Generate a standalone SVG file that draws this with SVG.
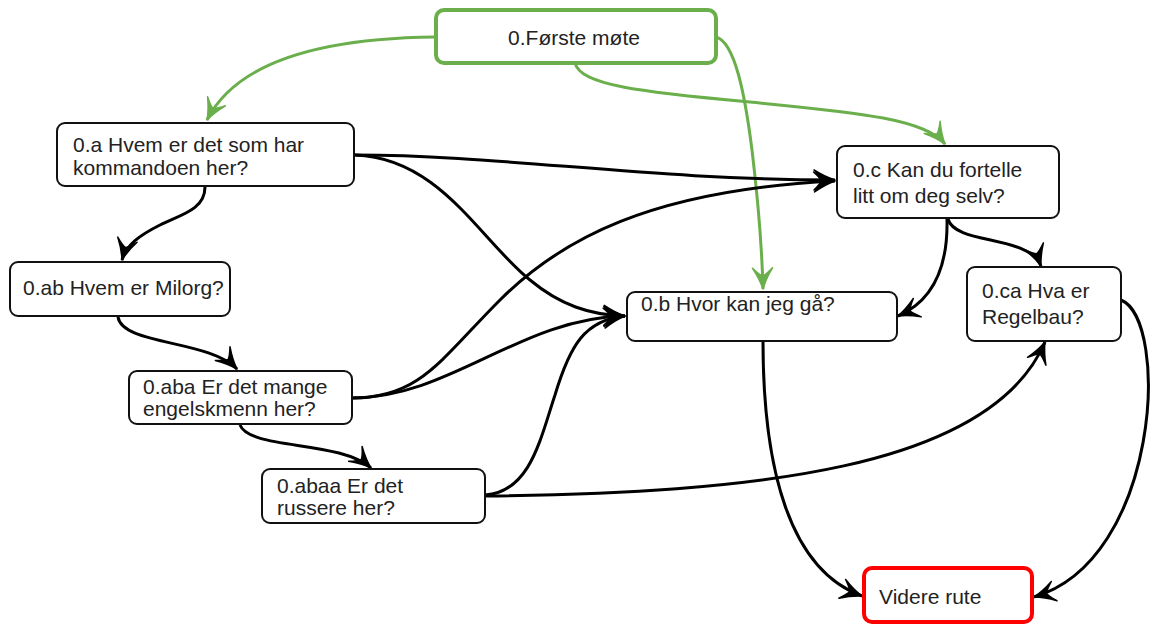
<svg xmlns="http://www.w3.org/2000/svg" width="1154" height="625" viewBox="0 0 1154 625">
<style>
.box{fill:#fff;stroke:#111;stroke-width:2}
.start{fill:#fff;stroke:#6aaf4c;stroke-width:4}
.end{fill:#fff;stroke:#f00;stroke-width:4}
text{font-family:"Liberation Sans",Arial,sans-serif;font-size:21px;fill:#222}
.c{fill:none;stroke:#000;stroke-width:3;marker-end:url(#ab)}
.g{fill:none;stroke:#6aaf4c;stroke-width:3;marker-end:url(#ag)}
</style>
<defs>
<marker id="ab" markerUnits="userSpaceOnUse" viewBox="-24 -12 27 24" markerWidth="27" markerHeight="24" refX="0" refY="0" orient="auto">
<path d="M0,0 Q-10,-3 -21,-10 Q-14,-3 -13,0 Q-14,3 -21,10 Q-10,3 0,0 Z" fill="#000" stroke="#000" stroke-width="1.5" stroke-linejoin="round"/>
</marker>
<marker id="ag" markerUnits="userSpaceOnUse" viewBox="-24 -12 27 24" markerWidth="27" markerHeight="24" refX="0" refY="0" orient="auto">
<path d="M0,0 Q-10,-3 -21,-10 Q-14,-3 -13,0 Q-14,3 -21,10 Q-10,3 0,0 Z" fill="#6aaf4c" stroke="#6aaf4c" stroke-width="1.5" stroke-linejoin="round"/>
</marker>
</defs>
<g id="connectors">
<path class="g" d="M435,37 C340,38 240,55 207,120"/>
<path class="g" d="M716,37 C735,42 745,95 752,150 C758,200 762,250 763,289"/>
<path class="g" d="M575,63 C580,85 640,92 750,102 C850,112 925,118 945,144"/>
<path class="c" d="M205,187 C205,210 180,215 160,225 C140,235 126,245 122,260"/>
<path class="c" d="M355,155 C500,155 650,180 835,180"/>
<path class="c" d="M355,155 C440,158 480,240 530,280 C560,305 590,315 625,316"/>
<path class="c" d="M118,317 C122,345 210,340 237,369"/>
<path class="c" d="M352,398 C420,398 440,360 500,300 C560,240 650,190 835,181"/>
<path class="c" d="M352,398 C450,398 520,318 625,316"/>
<path class="c" d="M240,425 C250,450 340,440 371,468"/>
<path class="c" d="M485,495 C530,492 540,440 555,395 C570,345 585,320 625,316"/>
<path class="c" d="M485,496 C750,493 990,470 1045,342"/>
<path class="c" d="M947,219 C948,265 935,300 898,316"/>
<path class="c" d="M948,219 C955,245 1030,235 1041,266"/>
<path class="c" d="M763,341 C763,470 790,570 862,596"/>
<path class="c" d="M1121,300 C1170,320 1160,560 1034,597"/>
</g>
<g id="n0"><rect class="start" x="436" y="10" width="280" height="53" rx="8"/><text x="574" y="45" text-anchor="middle">0.Første møte</text></g>
<g id="na"><rect class="box" x="57" y="123" width="297" height="63" rx="8"/><text x="73" y="152" font-size="21.5">0.a Hvem er det som har</text><text x="73" y="175" font-size="21.5">kommandoen her?</text></g>
<g id="nab"><rect class="box" x="10" y="262" width="220" height="54" rx="8"/><text x="23" y="295">0.ab Hvem er Milorg?</text></g>
<g id="naba"><rect class="box" x="129" y="371" width="223" height="53" rx="8"/><text x="143" y="394">0.aba Er det mange</text><text x="143" y="416">engelskmenn her?</text></g>
<g id="nabaa"><rect class="box" x="262" y="469" width="223" height="54" rx="8"/><text x="277" y="493">0.abaa Er det</text><text x="277" y="515">russere her?</text></g>
<g id="nb"><rect class="box" x="627" y="292" width="270" height="49" rx="8"/><text x="641" y="311">0.b Hvor kan jeg gå?</text></g>
<g id="nc"><rect class="box" x="837" y="146" width="222" height="72" rx="8"/><text x="853" y="177">0.c Kan du fortelle</text><text x="853" y="203">litt om deg selv?</text></g>
<g id="nca"><rect class="box" x="967" y="267" width="154" height="74" rx="8"/><text x="982" y="298">0.ca Hva er</text><text x="982" y="324">Regelbau?</text></g>
<g id="nvid"><rect class="end" x="864" y="568" width="168" height="54" rx="8"/><text x="879" y="604">Videre rute</text></g>
</svg>
